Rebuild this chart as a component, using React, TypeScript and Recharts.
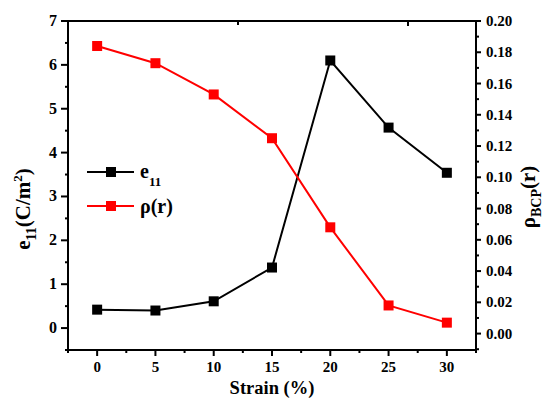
import { LineChart, Line, XAxis, YAxis, Customized } from "recharts";

const strain = [0, 5, 10, 15, 20, 25, 30];
const e11 = [0.42, 0.4, 0.61, 1.38, 6.1, 4.57, 3.54];
const rho = [0.184, 0.173, 0.153, 0.125, 0.068, 0.018, 0.007];

const xTicks = [-2.5, 0, 2.5, 5, 7.5, 10, 12.5, 15, 17.5, 20, 22.5, 25, 27.5, 30, 32.5];
const leftTicks = [-0.5, 0, 0.5, 1, 1.5, 2, 2.5, 3, 3.5, 4, 4.5, 5, 5.5, 6, 6.5, 7];
const rightTicks = [
  -0.01, 0, 0.01, 0.02, 0.03, 0.04, 0.05, 0.06, 0.07, 0.08, 0.09, 0.1, 0.11,
  0.12, 0.13, 0.14, 0.15, 0.16, 0.17, 0.18, 0.19, 0.2,
];

const data = strain.map((s, i) => ({ strain: s, e11: e11[i], rho: rho[i] }));

const FONT = "'Liberation Serif', 'Times New Roman', serif";
const RED = "#ff0000";

const isMajor = (v: number, step: number) =>
  Math.abs(v / step - Math.round(v / step)) < 1e-6;

const BottomTick = (props: any) => {
  const { x, y, payload } = props;
  const v = payload.value;
  const major = isMajor(v, 5);
  return (
    <g>
      <line x1={x} y1={y} x2={x} y2={y + (major ? 6 : 3)} stroke="#000" strokeWidth={2} />
      {major && (
        <text x={x} y={y + 22} textAnchor="middle" fontFamily={FONT} fontWeight="bold" fontSize={15} fill="#000">
          {v}
        </text>
      )}
    </g>
  );
};

const TopTick = (props: any) => {
  const { x, y, payload } = props;
  const major = isMajor(payload.value, 5);
  return <line x1={x} y1={y} x2={x} y2={y + (major ? 5 : 4)} stroke="#000" strokeWidth={2} />;
};

const LeftTick = (props: any) => {
  const { x, y, payload } = props;
  const v = payload.value;
  const major = isMajor(v, 1);
  return (
    <g>
      <line x1={x} y1={y} x2={x - (major ? 7 : 3)} y2={y} stroke="#000" strokeWidth={2} />
      {major && (
        <text x={x - 11} y={y + 5} textAnchor="end" fontFamily={FONT} fontWeight="bold" fontSize={16} fill="#000">
          {v}
        </text>
      )}
    </g>
  );
};

const RightTick = (props: any) => {
  const { x, y, payload } = props;
  const v = payload.value;
  const major = v >= 0 && isMajor(v, 0.02);
  return (
    <g>
      <line x1={x} y1={y} x2={x + (major ? 5 : 3)} y2={y} stroke="#000" strokeWidth={2} />
      {major && (
        <text x={x + 10} y={y + 5} textAnchor="start" fontFamily={FONT} fontWeight="bold" fontSize={15} fill="#000">
          {v.toFixed(2)}
        </text>
      )}
    </g>
  );
};

const SquareDot = (props: any) => {
  const { cx, cy, fill } = props;
  if (cx == null || cy == null) return null;
  return <rect x={cx - 5} y={cy - 5} width={10} height={10} fill={fill} />;
};

const Extras = () => (
  <g fontFamily={FONT} fontWeight="bold" fill="#000">
    {/* legend */}
    <line x1={87} y1={172} x2={134} y2={172} stroke="#000" strokeWidth={2} />
    <rect x={106} y={167} width={10} height={10} fill="#000" />
    <text x={140} y={178} fontSize={20}>
      e<tspan fontSize={13} dy={8}>11</tspan>
    </text>
    <line x1={87} y1={206} x2={134} y2={206} stroke={RED} strokeWidth={2} />
    <rect x={106} y={201} width={10} height={10} fill={RED} />
    <text x={140} y={213} fontSize={20}>
      ρ(r)
    </text>

    {/* axis titles */}
    <text transform="rotate(-90, 30, 209)" x={30} y={209} textAnchor="middle" fontSize={21}>
      e<tspan fontSize={14} dy={6}>11</tspan>
      <tspan dy={-6}>(C/m</tspan>
      <tspan fontSize={13} dy={-8}>2</tspan>
      <tspan dy={8}>)</tspan>
    </text>
    <text transform="rotate(-90, 535, 197)" x={535} y={197} textAnchor="middle" fontSize={21}>
      ρ<tspan fontSize={14} dy={6}>BCP</tspan>
      <tspan dy={-6}>(r)</tspan>
    </text>
    <text x={272} y={394} textAnchor="middle" fontSize={18.5}>
      Strain (%)
    </text>
  </g>
);

export default function App() {
  return (
    <div style={{ position: "absolute", left: 0, top: 0, background: "#fff" }}>
      <LineChart width={547} height={399} data={data} margin={{ top: 0, right: 0, bottom: 0, left: 0 }}>
        <XAxis
          xAxisId="bottom"
          dataKey="strain"
          type="number"
          domain={[-2.5, 32.5]}
          ticks={xTicks}
          interval={0}
          height={49}
          tickSize={0}
          tickMargin={0}
          tickLine={false}
          tick={<BottomTick />}
          axisLine={{ stroke: "#000", strokeWidth: 2 }}
          allowDataOverflow
        />
        <XAxis
          xAxisId="top"
          orientation="top"
          type="number"
          domain={[-2.5, 32.5]}
          ticks={xTicks}
          interval={0}
          height={21}
          tickSize={0}
          tickMargin={0}
          tickLine={false}
          tick={<TopTick />}
          axisLine={{ stroke: "#000", strokeWidth: 2 }}
          allowDataOverflow
        />
        <YAxis
          yAxisId="left"
          type="number"
          domain={[-0.5, 7]}
          ticks={leftTicks}
          interval={0}
          width={68}
          tickSize={0}
          tickMargin={0}
          tickLine={false}
          tick={<LeftTick />}
          axisLine={{ stroke: "#000", strokeWidth: 2 }}
          allowDataOverflow
        />
        <YAxis
          yAxisId="right"
          orientation="right"
          type="number"
          domain={[-0.0105, 0.2]}
          ticks={rightTicks}
          interval={0}
          width={71}
          tickSize={0}
          tickMargin={0}
          tickLine={false}
          tick={<RightTick />}
          axisLine={{ stroke: "#000", strokeWidth: 2 }}
          allowDataOverflow
        />
        <Line
          xAxisId="bottom"
          yAxisId="left"
          dataKey="e11"
          stroke="#000"
          strokeWidth={2}
          dot={<SquareDot fill="#000" />}
          isAnimationActive={false}
        />
        <Line
          xAxisId="bottom"
          yAxisId="right"
          dataKey="rho"
          stroke={RED}
          strokeWidth={2}
          dot={<SquareDot fill={RED} />}
          isAnimationActive={false}
        />
        <Customized component={Extras} />
      </LineChart>
    </div>
  );
}
